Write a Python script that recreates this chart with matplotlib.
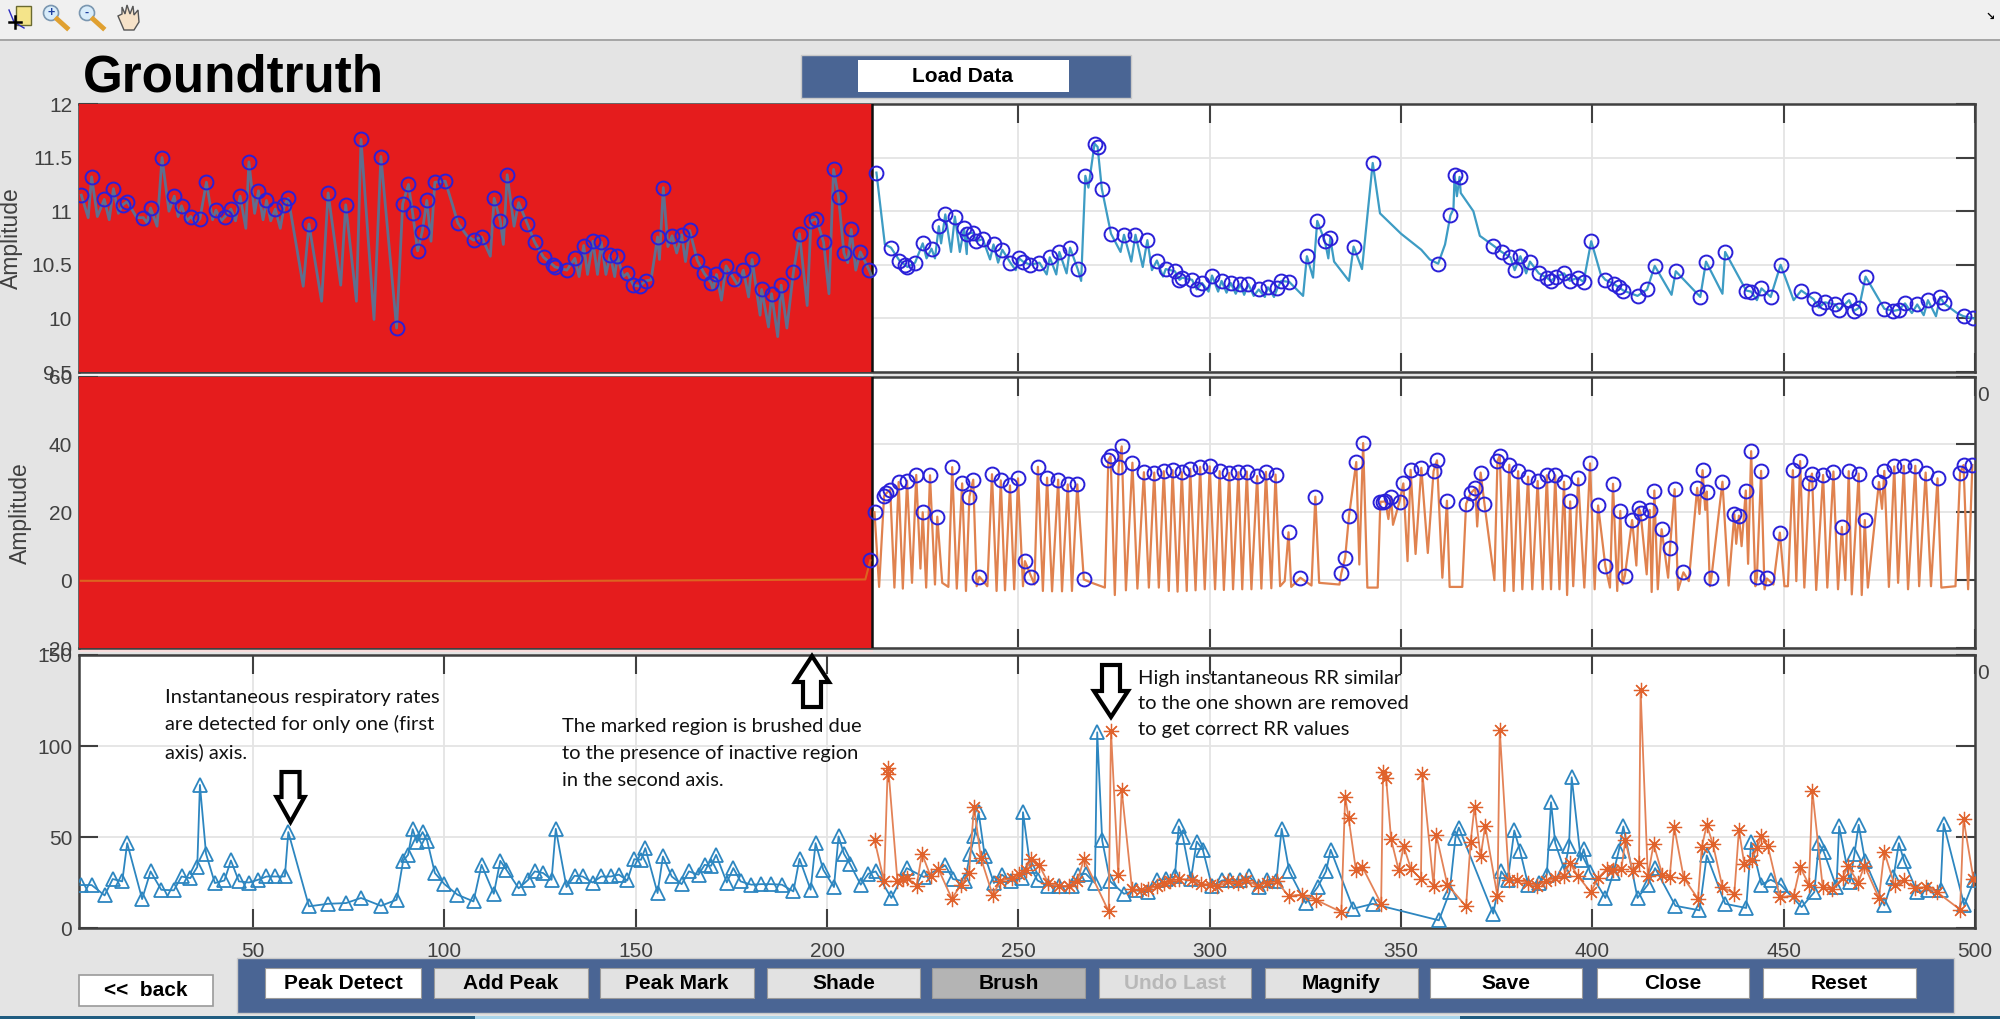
import numpy as np
import matplotlib
matplotlib.use("Agg")
import matplotlib.pyplot as plt
from matplotlib.patches import Rectangle, Polygon, Circle

plt.rcParams["font.family"] = ["Liberation Sans", "DejaVu Sans"]

W, H = 2000, 1021

# =========================================================
# Data
# =========================================================

XTICKS = [50, 100, 150, 200, 250, 300, 350, 400, 450, 500]
BRUSH_END = 211.8

# first axis: detected peaks
peak1_x = [5.1, 7.8, 11.1, 13.5, 15.9, 17.1, 21.3, 23.2, 26.2, 29.4, 31.3, 33.7, 36.1, 37.8, 40.3, 42.7, 44.2, 46.6,
           48.9, 51.4, 53.5, 55.8, 58.2, 59.2, 64.6, 69.6, 74.2, 78.2, 83.4, 87.5, 89.1, 90.6, 91.7, 93, 94.2, 95.4,
           97.5, 100.2, 103.5, 107.6, 109.7, 113, 114.6, 116.4, 119.4, 121.7, 123.6, 125.9, 128.3, 128.9, 132, 134.1,
           136.4, 138.8, 141, 143.3, 145.2, 147.8, 149.4, 151, 152.6, 155.7, 157.2, 159.5, 162, 164.1, 166.1, 167.9,
           169.7, 171.1, 173.6, 175.6, 178.1, 180.4, 182.9, 185.5, 188, 191.2, 192.8, 195.8, 197.2, 199.1, 201.7, 203,
           204.4, 206.3, 208.7, 211,
           212.9, 216.7, 218.9, 220.3, 221, 223, 225, 227.3, 229.2, 230.9, 233.4, 235.8, 236.7, 238.1, 239, 240.7,
           243.5, 245.8, 247.9, 250.2, 251.2, 253.1, 255.5, 258.2, 260.7, 263.5, 265.5, 267.5, 269.9, 270.7, 271.8,
           274.2, 277.6, 280.6, 283.7, 286.2, 288.5, 290.9, 292.1, 292.8, 295.4, 296.6, 298, 300.6, 303.1, 305.5, 308,
           310.1, 312.8, 315.2, 317.7, 318.7, 320.8, 325.4, 328.1, 330.1, 331.5, 337.6, 342.6, 359.7, 362.9, 364,
           365.3, 374.1, 376.3, 378.6, 379.7, 381.2, 383.7, 386, 388.1, 389.1, 390.6, 392.6, 394.1, 396.2, 397.7,
           399.7, 403.4, 405.7, 406.9, 408.1, 411.8, 414.3, 416.3, 421.8, 428.2, 429.7, 434.7, 440.2, 441.5, 444.2,
           446.6, 449.2, 454.6, 457.8, 459.2, 460.8, 463.5, 464.5, 467.1, 468.4, 469.7, 471.4, 476.3, 478.7, 480.1,
           481.7, 484.9, 487.7, 490.9, 491.9, 497, 499.6]
peak1_y = [11.15, 11.32, 11.11, 11.21, 11.06, 11.09, 10.94, 11.03, 11.5, 11.14, 11.05, 10.95, 10.93, 11.27, 11.01,
           10.95, 11.02, 11.14, 11.46, 11.19, 11.1, 11.02, 11.06, 11.12, 10.88, 11.17, 11.06, 11.67, 11.51, 9.91,
           11.07, 11.25, 10.98, 10.63, 10.81, 11.1, 11.27, 11.28, 10.89, 10.73, 10.76, 11.12, 10.91, 11.34, 11.08,
           10.88, 10.71, 10.57, 10.5, 10.48, 10.45, 10.56, 10.68, 10.72, 10.71, 10.59, 10.58, 10.42, 10.31, 10.3,
           10.35, 10.76, 11.22, 10.77, 10.78, 10.82, 10.54, 10.42, 10.33, 10.41, 10.49, 10.37, 10.45, 10.55, 10.27,
           10.23, 10.31, 10.43, 10.79, 10.91, 10.93, 10.71, 11.39, 11.13, 10.61, 10.83, 10.62, 10.45,
           11.36, 10.66, 10.54, 10.5, 10.48, 10.52, 10.7, 10.65, 10.86, 10.97, 10.95, 10.84, 10.79, 10.8, 10.72, 10.74,
           10.69, 10.64, 10.52, 10.56, 10.53, 10.5, 10.52, 10.57, 10.62, 10.66, 10.46, 11.33, 11.63, 11.6, 11.21,
           10.79, 10.78, 10.78, 10.73, 10.54, 10.46, 10.44, 10.36, 10.38, 10.36, 10.27, 10.33, 10.4, 10.35, 10.33,
           10.32, 10.32, 10.27, 10.29, 10.28, 10.35, 10.34, 10.58, 10.91, 10.72, 10.75, 10.67, 11.45, 10.51, 10.96,
           11.34, 11.32, 10.68, 10.62, 10.57, 10.45, 10.58, 10.53, 10.42, 10.38, 10.35, 10.39, 10.42, 10.35, 10.38,
           10.34, 10.72, 10.36, 10.32, 10.29, 10.26, 10.21, 10.27, 10.49, 10.44, 10.2, 10.53, 10.62, 10.26, 10.25,
           10.28, 10.2, 10.5, 10.26, 10.18, 10.1, 10.15, 10.13, 10.08, 10.17, 10.07, 10.1, 10.39, 10.09, 10.07, 10.08,
           10.14, 10.13, 10.17, 10.2, 10.14, 10.02, 10.0]

# first axis: valleys of the trace between peaks
valley1_x = [6.9, 9.3, 12.4, 14.8, 19.6, 22.3, 24.9, 28, 30.4, 32.7, 35, 39.4, 41.7, 45.4, 48.1, 50.4, 52.6, 54.6,
             57.1, 63.1, 67.9, 72.9, 77, 81.6, 96.5, 102.2, 105.9, 112, 115.4, 118.2, 135.2, 137.4, 140, 142.2, 144.5,
             146.7, 154, 156.2, 158.4, 160.7, 163, 170.2, 172.4, 176.8, 179.5, 182.5, 184.7, 187.1, 189.5, 194.8,
             200.5, 205.4, 207.5, 211.7,
             215.1, 226, 228.2, 229.8, 232.4, 234.7, 236.5, 242.6, 244.7, 249.3, 257.4, 259.9, 262.6, 266.4, 268.3,
             276.7, 279.5, 282.5, 284.9, 287.8, 299.7, 302.2, 304.4, 306.8, 309, 311.5, 314.4, 316.8, 324.4, 327,
             331, 332.5, 336.4, 339.8, 344.5, 350, 355.3, 357.5, 361.5, 363.7, 364.6, 365.6, 368.9, 370.6, 382.7,
             402.2, 420.7, 434, 443, 452.6, 483.5, 486.6, 489.8, 495.3]
valley1_y = [10.94, 10.95, 10.92, 10.98, 10.94, 10.89, 10.86, 11, 10.95, 10.91, 10.89, 10.92, 10.91, 10.91, 10.84,
             10.98, 10.92, 10.91, 10.84, 10.3, 10.16, 10.31, 10.16, 9.99, 10.72, 11.05, 10.77, 10.58, 10.69, 10.86,
             10.39, 10.41, 10.41, 10.41, 10.39, 10.39, 10.36, 10.55, 10.67, 10.61, 10.53, 10.27, 10.17, 10.3, 10.2,
             10.03, 9.92, 9.83, 9.91, 10.12, 10.23, 10.52, 10.45, 10.39,
             10.69, 10.56, 10.56, 10.7, 10.62, 10.62, 10.6, 10.55, 10.52, 10.45, 10.41, 10.41, 10.42, 10.35, 11.22,
             10.62, 10.53, 10.48, 10.45, 10.39, 10.25, 10.25, 10.24, 10.23, 10.22, 10.21, 10.2, 10.2, 10.21, 10.38,
             10.56, 10.53, 10.35, 10.46, 10.98, 10.79, 10.64, 10.55, 10.69, 11.02, 11.14, 11.17, 11.0, 10.77, 10.42,
             10.41, 10.22, 10.23, 10.17, 10.17, 10.05, 10.03, 10.02, 10.05]

# second axis: detected peaks
peak2_x = [211.3, 212.4, 214.9, 215.5, 216.5, 218.7, 220.9, 223.3, 225, 226.9, 228.8, 232.7, 235.3, 237.2, 238.2, 239.8,
           243.1, 245.4, 247.8, 249.9, 251.7, 253.4, 255.1, 257.5, 260.4, 262.9, 265.4, 267.1, 273.5, 274.1, 276.2,
           277, 279.8, 282.8, 285.5, 288, 290.3, 292.7, 294.9, 297.5, 300, 302.6, 305.1, 307.5, 309.7, 312.4, 314.7,
           317.2, 320.6, 323.7, 327.6, 334.4, 335.4, 336.4, 338.3, 340.1, 344.6, 345.3, 345.9, 347.4, 349.6, 350.6,
           352.5, 355.3, 358.5, 359.4, 362, 367, 368.2, 369.4, 370.8, 371.8, 375.2, 375.8, 378.3, 380.6, 383.2, 385.7,
           388.1, 390.3, 392.6, 394.2, 396.3, 399.4, 401.5, 403.4, 405.4, 407.3, 408.5, 410.4, 412.1, 412.6, 415,
           416.2, 418.1, 420.3, 421.5, 423.8, 427.4, 428.8, 429.9, 431.1, 434, 437.1, 438.3, 440.1, 441.5, 443, 444.1,
           445.6, 449, 452.4, 454.3, 456.7, 457.4, 460.3, 463, 465.2, 467, 469.6, 471.2, 474.9, 476.3, 478.9, 481.4,
           484.4, 487.1, 490.2, 496.1, 497, 499.3]
peak2_y = [5.8, 20, 24.8, 25.6, 26.7, 28.9, 29.3, 31, 20, 30.9, 18.7, 33.3, 28.5, 24.6, 29.6, 1, 31.2, 29.4, 27.9, 30,
           5.6, 0.9, 33.4, 30.2, 29.6, 28.2, 28.2, 0.2, 35.3, 36.5, 33.4, 39.4, 34.6, 31.8, 31.7, 32.1, 32.4, 31.8,
           32.8, 33.4, 33.5, 32.1, 31.6, 31.8, 32, 30.7, 31.9, 31.1, 14.1, 0.7, 24.6, 2, 6.6, 18.9, 34.8, 40.4, 23.1,
           23.1, 23.3, 24.6, 23.1, 28.5, 32.5, 33.1, 32.1, 35.3, 23.4, 22.5, 25.6, 27, 31.7, 22.5, 35.1, 36.7, 34,
           32.1, 30.5, 29.2, 30.9, 30.9, 29, 23.2, 30, 34.4, 22, 4.1, 28.4, 20.4, 1.3, 17.7, 21.2, 19.9, 20.7, 26.4,
           15, 9.6, 26.8, 2.3, 27.2, 32.4, 26.1, 0.6, 29, 19.4, 19, 26.4, 38, 0.8, 32.2, 0.5, 14, 32.4, 35.1, 28.5,
           31.4, 31, 32, 15.7, 32.1, 31.4, 17.7, 28.9, 32.2, 33.5, 33.7, 33.7, 31.7, 30, 31.7, 33.9, 33.9]

# second axis: valleys, and the flat inactive stretch under the brush
valley2_x = [5, 120, 210, 213.6, 217.6, 219.8, 222.2, 224.4, 225.9, 228.2, 230.1, 231.7, 233.9, 236.3, 239.1, 241.9,
             244.3, 246.5, 248.9, 251.2, 254.2, 256.4, 258.8, 261.4, 264, 269.2, 272.6, 275.2, 278.1, 281.1, 284.1,
             286.7, 289.3, 291.6, 294, 296.3, 298.7, 301.4, 303.7, 306.1, 308.5, 310.9, 313.5, 316.1, 318.4, 319.6,
             321.3, 326.6, 328.6, 333.9, 339.1, 341.2, 343.9, 346.7, 347.9, 351.7, 353.8, 357, 360.8, 362.7, 366,
             369.9, 374.4, 377, 379.4, 381.7, 384.3, 387, 389.2, 391.4, 393.4, 395, 397.9, 400.6, 404.6, 406.5, 407.9,
             411.5, 414.2, 415.5, 417.1, 419.8, 422.4, 425.2, 428, 429.5, 430.7, 435.6, 437.6, 439, 440.7, 442.6, 445,
             447.3, 450.2, 451.1, 453.3, 455.4, 458.5, 461.4, 464.2, 466.1, 467.8, 470.4, 472, 475.7, 477.5, 479.9,
             482.5, 485.4, 488.5, 491.2, 494.9, 498.2]
valley2_y = [-0.2, -0.3, 0.2, -2, -2.2, -2.5, -0.8, 3.4, -2.2, -1.3, -0.8, -2, -2.5, -3.2, -1.8, -1.8, -3.2, -3, -2.7,
             -1.8, -1.3, -3.2, -3.3, -3.3, -3.2, -0.8, -2.2, -4.4, -3, -2.5, -2.2, -2.2, -3.2, -3.4, -3.2, -3, -2.7,
             -2.7, -2.9, -2.7, -2.7, -2.7, -2.5, -2.4, -1.8, -0.3, -2, -1.6, -0.8, -1.3, 4.6, -2.2, -2.2, 18, 16.3,
             5.6, 7.7, 8, 0.7, -2, -2, 15.8, 0, -3.2, -3.2, -2.7, -2.7, -2.7, -2.7, -2.7, -4.4, -1.8, -2.2, -2.7, -2.2,
             -3.2, -1.3, 4.3, 1.7, -3.5, -2.7, 0.7, -2.9, -0.3, 19.5, 20.7, -1.8, -1.6, 10.7, 10, 4.8, -1.8, -2.7,
             -1.3, -1.8, -1.8, -0.3, -2.2, -2.9, -2.2, -2.7, 0, -4.2, -4.4, -2.2, 21, -2, -0.8, -2.7, -1.8, -1.8, -2.2,
             -1.8, -2.7]

# third axis: instantaneous RR of the first axis
rr1_x = [4.9, 7.8, 11.2, 13.3, 15.8, 17.1, 21, 23.2, 26, 29.3, 31.3, 33.6, 35.4, 36.1, 37.7, 40, 42.5, 44.2, 46.3, 48.9,
         51.3, 53.5, 55.7, 58.3, 59.2, 64.6, 69.6, 74.3, 78.2, 83.4, 87.5, 89.2, 90.5, 91.7, 92.8, 94.3, 95.5, 97.5,
         100, 103.4, 107.6, 109.7, 112.9, 114.6, 116.2, 119.4, 121.9, 123.6, 125.8, 128, 129.1, 131.9, 134, 136.1,
         138.7, 141, 143.5, 145.6, 147.8, 149.6, 151.4, 152.5, 155.7, 157.1, 159.4, 162, 163.9, 166.4, 168, 169.7, 171,
         173.8, 175.5, 177.4, 180.2, 182.8, 185.4, 188.2, 191.2, 192.8, 195.7, 197, 199, 201.8, 203, 204.4, 206, 208.8,
         210.8, 212.7, 216.8, 220.8, 225.3, 230.9, 232.9, 236, 237.4, 238.5, 239.6, 241.2, 243.6, 245.7, 248.1, 250.9,
         251.2, 253.1, 255, 257.8, 260.7, 264, 265.7, 267.6, 270, 270.6, 271.9, 274, 277.6, 280.8, 283.8, 286.2, 288.5,
         290.9, 291.9, 293, 295.1, 296.6, 298.2, 300.6, 303.2, 305.4, 308, 310.3, 313, 315.1, 317.4, 318.8, 320.8,
         325.1, 328.2, 330.4, 331.6, 337.5, 342.6, 359.9, 362.7, 364.2, 365.1, 374.1, 376.2, 377.9, 379.6, 381.1,
         383.2, 386, 388.1, 389.2, 390.3, 392.7, 393.9, 394.6, 397, 397.7, 399.4, 403.4, 405.5, 406.9, 408.1, 411.8,
         414.5, 416.4, 421.7, 428, 429.9, 434.7, 440.2, 441.5, 444.2, 446.6, 449.2, 454.7, 458, 459.2, 460.5, 463.8,
         464.5, 467.3, 468.5, 469.6, 471.3, 476.3, 478.7, 480.1, 481.5, 484.9, 487.7, 491, 491.8, 497.2, 499.8]
rr1_y = [23.6, 23.6, 17.9, 26.9, 25.6, 46.6, 15.9, 31.1, 21, 20.7, 28.3, 27.4, 33.5, 78.6, 40.8, 24.7, 26.1, 37.1, 25.6,
         25, 26.5, 28.3, 28.3, 28.3, 52.7, 11.9, 13.3, 13.7, 16.5, 12.2, 15.5, 36.9, 40.2, 54.3, 47, 52.7, 47.9, 30.2,
         24.1, 18.3, 14.6, 34.7, 18.8, 36.9, 32, 21.8, 26.5, 31.1, 30.2, 26.5, 54.5, 22.5, 28.7, 28.3, 25, 28.3, 28.3,
         29.3, 26.1, 37.8, 37.5, 43.9, 19.2, 39.3, 28.3, 24.1, 31.1, 29.3, 34.7, 34.2, 40.2, 25, 32.9, 25.6, 23.8, 24.1,
         24.1, 23.8, 20.1, 38, 21, 46.6, 32, 22.5, 50.3, 40.8, 35.1, 23.8, 29.8, 31.1, 16.5, 32.9, 28, 34.4, 26.9, 25.6,
         40.8, 50.3, 63.6, 39.7, 24.7, 29.3, 25.6, 27.4, 63.6, 33.8, 26.1, 23.2, 22.9, 22.9, 29.3, 29.8, 24.7, 107.5,
         48.1, 25.6, 18.8, 20.7, 19.6, 26.1, 26.9, 28.3, 55.8, 49.9, 26.9, 47.5, 43, 22.9, 26.1, 26.5, 26.5, 28.3, 22.5,
         26.5, 25.6, 54.5, 31.1, 13.7, 22.5, 31.1, 43, 10.6, 13.3, 4.2, 19.7, 49.4, 55.2, 7.9, 31.1, 26.1, 53.6, 42.4,
         23.8, 24.7, 29.3, 69.1, 46.6, 32, 45.2, 82.8, 37.1, 43.3, 30.5, 16.5, 30.2, 42.4, 55.8, 16.5, 23.8, 32.9, 12.2,
         9.7, 39.9, 13.3, 11, 47, 23.8, 26.5, 23.8, 11.5, 19.7, 46.6, 41.7, 22.5, 55.8, 25.2, 40.8, 56.7, 36.6, 12.4,
         27.8, 46.6, 36.6, 19.7, 20.7, 21, 57.2, 12.4, 26.5]

# third axis: instantaneous RR of the second axis
rr2_x = [212.4, 214.9, 215.8, 216, 218.4, 219.8, 221, 223.4, 224.8, 227.1, 229.1, 232.6, 235, 237.1, 238.4, 240.2, 243.3,
         245.3, 248.3, 250.2, 251.9, 253.4, 255.5, 257.8, 260.5, 263.3, 265.4, 267.1, 273.6, 274.2, 276.1, 277, 279.7,
         282.1, 284, 286.3, 288.1, 289.7, 292.1, 295.4, 297.8, 300.1, 302, 304.9, 307.3, 309.6, 312.5, 314.9, 317.5,
         320.6, 324.1, 327.7, 334.4, 335.4, 336.3, 338.2, 339.9, 344.8, 345.3, 346.1, 347.4, 349.4, 350.7, 352.6, 355.2,
         355.6, 358.5, 359.2, 362.1, 367, 368.2, 369.2, 370.8, 372, 375.2, 375.8, 378.2, 380.3, 383.2, 385.5, 387.9,
         390.3, 392.5, 394.1, 396.3, 399.6, 401.5, 403.8, 405.5, 407.6, 408.6, 410.5, 412.2, 412.6, 414.5, 416, 418.3,
         420.2, 421.4, 423.9, 427.6, 428.6, 429.9, 431.5, 434, 437.1, 438.3, 439.7, 441.6, 443, 444.2, 445.9, 449, 452.6,
         454.3, 456.6, 457.5, 460.2, 462.7, 465.4, 466.8, 469.5, 471.1, 474.9, 476.3, 479, 481.4, 484.2, 487.3, 490.1,
         496.1, 497, 499.6]
rr2_y = [48.4, 25.6, 84.6, 87.8, 25.6, 26.9, 27.4, 23.2, 40.8, 28.3, 32.4, 16.1, 23.8, 30.2, 66.7, 38.4, 17.9, 26, 27.4,
         29.8, 32, 37.8, 34.4, 24.7, 22.9, 23.2, 25.6, 37.8, 9.1, 108.2, 29.3, 75.9, 21.4, 20.7, 21.4, 23.2, 24.7, 25.6,
         26.9, 26.5, 24.3, 23.8, 22.9, 25.6, 24.7, 26.5, 22.9, 25, 25.6, 17.7, 18.3, 15.5, 8.8, 72.2, 60.3, 32, 33.5,
         13.3, 85.6, 82.3, 48.8, 31.6, 44.8, 32.4, 26.9, 84.6, 23.2, 51.2, 23.8, 11.9, 47.5, 66.7, 39.3, 56.3, 17.4,
         108.8, 26.5, 26.5, 24.7, 23.2, 25.6, 27.4, 28.7, 35.6, 28.3, 19.7, 27.4, 32.5, 32, 32.5, 48.1, 31.4, 35.6, 131,
         28.3, 46.1, 29.3, 28, 55.4, 27.4, 16.1, 44.4, 56.7, 46.1, 22.5, 18.8, 53.9, 35.3, 37.5, 43.9, 50.3, 44.8, 17,
         17.7, 33.5, 23.8, 75.3, 22.5, 21.6, 27.4, 33.8, 25, 34.2, 16.5, 41.7, 23.4, 26.1, 21.9, 22.5, 19.7, 10.1, 59.8,
         26.9]

# bottom button row: label, fill, text colour
button_labels = ["Peak Detect", "Add Peak", "Peak Mark", "Shade", "Brush", "Undo Last", "Magnify", "Save", "Close", "Reset"]
button_fills = ["white", "#e2e2e2", "#e2e2e2", "#e2e2e2", "#b4b4b4", "#e2e2e2", "#e2e2e2", "white", "white", "white"]
button_text = ["black"] * 5 + ["#b8b8b8"] + ["black"] * 4
button_left = [265, 434, 600, 767, 932, 1099, 1265, 1430, 1597, 1763]
button_right = [421, 588, 754, 920, 1085, 1251, 1418, 1582, 1749, 1916]

# =========================================================
# Colours
# =========================================================

BG = "#e4e4e4"
AXC = "#404040"
GRID = "#e4e4e4"
RED = "#e51c1d"
NAVY = "#4a6594"
CIRCLE = "#2a20d8"
TRACE_BLUE = "#3d9cc4"
TRACE_RED = "#5f6f8e"
TRACE_ORANGE = "#e0824f"
TRACE_ORANGE_RED = "#dc6420"
RR_BLUE = "#2d86c0"
RR_ORANGE = "#e0622c"
RR_ORANGE_LINE = "#e38257"


# =========================================================
# Helpers
# =========================================================

def merge_trace(px, py, vx, vy):
    x = np.array(list(px) + list(vx))
    y = np.array(list(py) + list(vy))
    order = np.argsort(x, kind="stable")
    return x[order], y[order]


def make_panel(fig, top, bottom, ylim, yticks, ylabels):
    ax = fig.add_axes([79 / W, 1 - bottom / H, (1975 - 79) / W, (bottom - top) / H])
    ax.set_xlim(4.5, 500)
    ax.set_ylim(*ylim)
    ax.set_xticks(XTICKS)
    ax.set_yticks(yticks)
    ax.set_yticklabels(ylabels)
    ax.set_axisbelow(True)
    ax.grid(True, color=GRID, linewidth=1.3)
    ax.tick_params(direction="in", top=True, right=True, length=13.5, width=1.5, color=AXC,
                   labelcolor=AXC, labelsize=15, pad=5)
    ax.tick_params(axis="x", labelbottom=False)
    for s in ax.spines.values():
        s.set_color(AXC)
        s.set_linewidth(1.8)
    return ax


def brush(ax):
    ax.axvspan(4.5, BRUSH_END, color=RED, lw=0, zorder=3)
    ax.axvline(BRUSH_END, color="#101010", lw=1.8, zorder=3.5)


def block_arrow(ax, xc, shaft, head, ytail, ybase, ytip):
    pts = [(xc - shaft, ytail), (xc + shaft, ytail), (xc + shaft, ybase), (xc + head, ybase),
           (xc, ytip), (xc - head, ybase), (xc - shaft, ybase)]
    ax.add_patch(Polygon(pts, closed=True, fc="white", ec="black", lw=3, joinstyle="miter", zorder=10))


# =========================================================
# Figure
# =========================================================

fig = plt.figure(figsize=(W / 100, H / 100), dpi=100, facecolor=BG)

# window chrome behind the panels, in pixels
chrome = fig.add_axes([0, 0, 1, 1], zorder=0)
chrome.set_xlim(0, W)
chrome.set_ylim(H, 0)
chrome.axis("off")
chrome.add_patch(Rectangle((0, 0), W, 39, fc="#f0f0f0", ec="none"))
chrome.add_patch(Rectangle((0, 39), W, 2.5, fc="#a6a6a6", ec="none"))

# toolbar icons
chrome.add_patch(Rectangle((16, 6), 15, 19, fc="#f4e48a", ec="#6a6a30", lw=1))
chrome.plot([9, 14, 24], [10, 22, 28], color="#2a2ac0", lw=1)
chrome.plot([9, 21], [22, 22], color="black", lw=1.8)
chrome.plot([15, 15], [16, 28], color="black", lw=1.8)
for xc, sign in [(51, "+"), (87, "-")]:
    chrome.plot([xc + 6, xc + 16], [19, 28], color="#e0a030", lw=3.5)
    chrome.add_patch(Circle((xc, 13), 7.5, fc="#d8ecfa", ec="#7a96b0", lw=1.2))
    chrome.text(xc, 13, sign, ha="center", va="center", fontsize=9, fontweight="bold", color="#2040a0")
chrome.add_patch(Polygon([(118, 16), (122, 14), (122, 7), (125, 14), (127, 5), (130, 14), (133, 6), (134, 15),
                          (138, 10), (139, 22), (134, 30), (124, 30)],
                         closed=True, fc="#f6e2c8", ec="#555555", lw=1))
chrome.text(1990, 17, "↘", ha="center", va="center", fontsize=8, fontweight="bold", color="black")

chrome.text(83, 78, "Groundtruth", ha="left", va="center", fontsize=36.8, fontweight="bold", color="black")

# Load Data button
chrome.add_patch(Rectangle((801, 55), 330, 43, fc=NAVY, ec="#c8c8c8", lw=1))
chrome.add_patch(Rectangle((858, 60), 211, 32, fc="white", ec="none"))
chrome.text(963, 76, "Load Data", ha="center", va="center", fontsize=15, fontweight="bold", color="black")

# y labels outside the axes
chrome.text(11, 238, "Amplitude", rotation=90, ha="center", va="center", fontsize=16.5, color=AXC)
chrome.text(20, 513, "Amplitude", rotation=90, ha="center", va="center", fontsize=16.5, color=AXC)

# pale seams next to the brushed panels
chrome.add_patch(Rectangle((79, 372), 794, 4.5, fc="#f4f4f4", ec="none"))
chrome.add_patch(Rectangle((79, 648), 794, 4, fc="#f8dcdc", ec="none"))

# bottom button bar
chrome.add_patch(Rectangle((237, 958), 1717, 55, fc=NAVY, ec="#c8c8c8", lw=1))
for label, fill, tcol, x0, x1 in zip(button_labels, button_fills, button_text, button_left, button_right):
    chrome.add_patch(Rectangle((x0, 968), x1 - x0, 30, fc=fill, ec="#9a9a9a", lw=0.8))
    chrome.text((x0 + x1) / 2, 983, label, ha="center", va="center", fontsize=15, fontweight="bold", color=tcol)
chrome.add_patch(Rectangle((79, 975), 134, 31, fc="white", ec="#9a9a9a", lw=1.2))
chrome.text(146, 990, "<<  back", ha="center", va="center", fontsize=15, fontweight="bold", color="black")

# taskbar edge at the very bottom
chrome.add_patch(Rectangle((0, 1016), 475, 2.5, fc="#1f5c80", ec="none"))
chrome.add_patch(Rectangle((475, 1016), 985, 2.5, fc="#a8d4ea", ec="none"))
chrome.add_patch(Rectangle((1460, 1016), 540, 2.5, fc="#1f5c80", ec="none"))
chrome.add_patch(Rectangle((0, 1018.5), W, 3, fc="white", ec="none"))

# ---- first axis ----
ax1 = make_panel(fig, 104, 372, (9.5, 12), [9.5, 10, 10.5, 11, 11.5, 12], ["9.5", "10", "10.5", "11", "11.5", "12"])
brush(ax1)
tx, ty = merge_trace(peak1_x, peak1_y, valley1_x, valley1_y)
left = tx <= BRUSH_END
ax1.plot(tx[left], ty[left], color=TRACE_RED, lw=2.0, zorder=4)
ax1.plot(tx[~left], ty[~left], color=TRACE_BLUE, lw=1.6, zorder=4)
ax1.plot(peak1_x, peak1_y, ls="none", marker="o", ms=10, mfc="none", mec=CIRCLE, mew=1.4, zorder=5)

# ---- second axis ----
ax2 = make_panel(fig, 376.5, 648, (-20, 60), [-20, 0, 20, 40, 60], ["-20", "0", "20", "40", "60"])
brush(ax2)
tx, ty = merge_trace(peak2_x, peak2_y, valley2_x, valley2_y)
left = tx <= BRUSH_END
ax2.plot(tx[left], ty[left], color=TRACE_ORANGE_RED, lw=1.5, zorder=4)
ax2.plot(tx[~left], ty[~left], color=TRACE_ORANGE, lw=1.6, zorder=4)
ax2.plot(peak2_x, peak2_y, ls="none", marker="o", ms=10, mfc="none", mec=CIRCLE, mew=1.4, zorder=5)

# ---- third axis ----
ax3 = make_panel(fig, 655, 928, (0, 150), [0, 50, 100, 150], ["0", "50", "100", "150"])
ax3.tick_params(axis="x", labelbottom=True, pad=10)
ax3.plot(rr1_x, rr1_y, color=RR_BLUE, lw=1.3, marker="^", ms=10, mfc="none", mec=RR_BLUE, mew=1.3, zorder=4)
ax3.plot(rr2_x, rr2_y, color=RR_ORANGE_LINE, lw=1.3, zorder=5)
ax3.plot(rr2_x, rr2_y, ls="none", marker=(8, 2, 0), ms=11, mec=RR_ORANGE, mew=0.9, zorder=6)

# annotations over everything, in pixels
over = fig.add_axes([0, 0, 1, 1], zorder=5)
over.set_xlim(0, W)
over.set_ylim(H, 0)
over.axis("off")

over.text(1983, 395, "0", ha="center", va="center", fontsize=15, color=AXC)
over.text(1983, 673, "0", ha="center", va="center", fontsize=15, color=AXC)

note = dict(family=["Lato", "DejaVu Sans"], fontsize=14.5, color="#111111", ha="left", va="center")
for y, s in zip([697, 724, 752], ["Instantaneous respiratory rates", "are detected for only one (first", "axis) axis."]):
    over.text(165, y, s, **note)
for y, s in zip([726, 753, 780], ["The marked region is brushed due", "to the presence of inactive region", "in the second axis."]):
    over.text(562, y, s, **note)
for y, s in zip([678, 703, 729], ["High instantaneous RR similar", "to the one shown are removed", "to get correct RR values"]):
    over.text(1138, y, s, **note)

block_arrow(over, 812, 9, 17, 707, 682, 656)
block_arrow(over, 290.5, 9, 14, 772, 797, 822)
block_arrow(over, 1111, 9, 17, 665, 691, 717)

fig.savefig("out.png", dpi=100, facecolor=BG)
